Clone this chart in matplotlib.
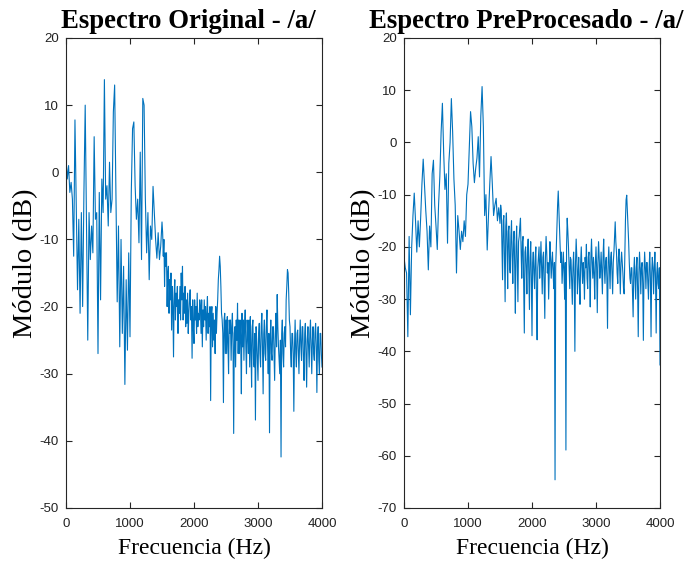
import numpy as np
import matplotlib
matplotlib.use("Agg")
import matplotlib.pyplot as plt

plt.rcParams['axes.unicode_minus'] = False

# frequency grid (Hz): 20 Hz steps up to 1480 Hz, 10 Hz steps above
freq = np.concatenate([np.arange(0, 1500, 20), np.arange(1500, 4001, 10)])

# original spectrum (dB)
orig_db = [
    # 0 - 1480 Hz (20 Hz steps)
    2.0, -1.0, 1.0, -3.0, -1.5, -4.0, -12.5, 7.8, -5.0, -17.5,
    -7.0, -21.0, -6.0, -20.0, -3.0, 10.0, -8.0, -25.0, -6.0, -13.0,
    -8.0, -12.0, 5.3, -7.0, -6.0, -27.0, -3.0, -19.0, -1.0, -6.0,
    13.8, -4.0, -2.0, -8.0, 1.5, -6.0, -4.0, 9.0, 13.0, -3.0,
    -19.3, -8.0, -26.0, -10.0, -24.0, -14.0, -31.6, -16.0, -26.5, -12.0,
    -24.5, -3.0, 6.5, 7.5, -2.0, -7.0, -4.0, -10.5, 3.0, -13.0,
    11.0, 10.0, -4.0, -12.0, -6.0, -16.0, -8.0, -10.0, -2.1, -6.0,
    -10.0, -12.8, -9.0, -13.0, -11.0,
    # 1500 - 4000 Hz (10 Hz steps)
    -7.4, -9.0, -12.5, -10.0, -17.0, -12.0, -14.0, -12.0, -20.0, -15.0,
    -14.0, -21.0, -16.0, -19.0, -15.0, -23.5, -17.0, -20.0, -27.5, -18.0,
    -16.0, -22.0, -18.0, -20.0, -17.0, -24.0, -19.0, -21.0, -17.0, -22.0,
    -15.0, -19.0, -14.0, -22.0, -18.0, -21.0, -17.0, -23.0, -19.0, -22.5,
    -18.0, -24.0, -21.0, -19.0, -17.5, -22.0, -20.0, -27.7, -19.0, -23.0,
    -25.5, -19.0, -22.0, -20.0, -24.0, -18.0, -23.0, -21.0, -22.0, -19.0,
    -20.0, -24.0, -19.0, -26.0, -20.5, -23.0, -19.0, -22.0, -20.0, -25.0,
    -21.0, -18.5, -24.0, -21.0, -23.0, -20.0, -34.0, -21.0, -20.0, -26.0,
    -21.0, -25.0, -22.0, -27.0, -20.0, -24.0, -21.0, -19.0, -16.0, -14.5,
    -12.5, -14.0, -17.0, -21.0, -22.0, -24.0, -34.3, -22.0, -21.0, -27.0,
    -22.0, -27.0, -21.5, -25.0, -30.0, -22.0, -24.0, -22.0, -28.0, -23.0,
    -21.0, -26.0, -38.9, -24.0, -23.0, -29.0, -22.0, -25.0, -19.5, -27.0,
    -22.0, -27.0, -22.0, -25.0, -33.0, -21.0, -26.0, -22.0, -28.0, -23.0,
    -20.5, -26.0, -30.0, -22.0, -24.0, -27.0, -22.0, -29.0, -21.5, -26.0,
    -32.0, -23.0, -22.0, -28.0, -29.0, -24.0, -36.9, -23.0, -25.0, -28.0,
    -31.0, -24.0, -22.5, -27.0, -29.0, -23.0, -21.0, -26.0, -33.0, -24.0,
    -22.0, -27.0, -28.0, -23.0, -20.5, -26.0, -30.0, -24.0, -38.8, -25.0,
    -22.0, -27.0, -28.0, -23.0, -23.0, -27.0, -31.0, -24.0, -21.0, -26.0,
    -18.2, -23.0, -26.0, -28.0, -30.0, -25.0, -42.4, -24.0, -22.0, -27.0,
    -29.0, -24.0, -23.0, -26.0, -19.0, -17.0, -14.5, -15.0, -18.0, -22.0,
    -23.0, -27.0, -29.0, -24.0, -24.0, -27.0, -35.6, -26.0, -22.0, -27.0,
    -29.0, -24.0, -23.5, -27.0, -30.0, -25.0, -22.0, -26.0, -28.0, -23.0,
    -23.0, -28.0, -31.0, -24.0, -22.5, -27.0, -32.0, -25.0, -23.0, -26.0,
    -29.0, -24.0, -22.0, -26.0, -30.0, -25.0, -23.0, -27.0, -28.0, -24.0,
    -22.5, -26.0, -32.8, -25.0, -23.0, -28.0, -30.0, -24.0, -24.0, -27.0,
    -29.0,
]

# preprocessed spectrum (dB)
prep_db = [
    # 0 - 1480 Hz (20 Hz steps)
    -22.0, -24.0, -25.0, -37.2, -18.0, -33.0, -20.0, -14.0, -9.7, -15.0,
    -21.0, -15.0, -20.0, -14.5, -8.0, -3.2, -8.0, -13.0, -17.0, -24.4,
    -16.0, -20.0, -6.0, -3.4, -12.0, -16.0, -20.5, -12.0, -6.5, 2.0,
    7.5, -2.0, -9.0, -6.0, -19.3, -4.0, 0.0, 8.4, 2.0, -7.0,
    -12.0, -25.0, -14.0, -17.0, -20.5, -17.0, -19.0, -15.0, -18.0, -10.0,
    -8.0, -1.0, 5.9, 3.0, -4.0, -7.7, -5.0, -3.0, 1.1, -6.6,
    5.0, 10.7, 3.0, -14.0, -10.0, -20.6, -14.0, -8.0, -2.7, -8.0,
    -14.0, -12.0, -10.7, -15.0, -12.5,
    # 1500 - 4000 Hz (10 Hz steps)
    -15.5, -12.0, -13.0, -20.0, -26.3, -15.0, -14.0, -22.0, -30.5, -16.0,
    -13.5, -20.0, -28.0, -17.0, -16.0, -24.0, -25.0, -18.0, -15.0, -22.0,
    -27.0, -19.0, -17.0, -24.0, -32.7, -20.0, -16.0, -23.0, -30.5, -19.0,
    -18.0, -16.0, -14.5, -21.0, -26.0, -19.0, -18.0, -28.0, -36.5, -21.0,
    -20.0, -24.0, -29.0, -21.0, -18.5, -25.0, -32.0, -22.0, -19.0, -26.0,
    -37.0, -23.0, -21.0, -25.0, -28.0, -22.0, -20.0, -30.0, -37.8, -24.0,
    -22.0, -20.0, -26.0, -23.0, -19.0, -24.0, -29.0, -22.0, -21.0, -27.0,
    -33.7, -22.0, -18.0, -21.0, -25.0, -23.0, -30.0, -24.0, -19.0, -22.0,
    -26.0, -23.0, -21.0, -25.0, -28.0, -23.0, -64.6, -24.0, -20.0, -16.0,
    -12.0, -9.3, -13.0, -17.0, -20.0, -23.0, -21.0, -27.0, -24.0, -21.0,
    -25.0, -30.0, -23.0, -58.9, -20.0, -14.5, -17.0, -20.0, -24.0, -28.0,
    -22.0, -22.5, -27.0, -31.0, -24.0, -21.0, -26.0, -40.0, -23.0, -18.5,
    -22.0, -29.0, -25.0, -22.0, -27.0, -31.0, -23.0, -20.0, -24.0, -27.0,
    -23.0, -25.0, -30.0, -22.0, -24.0, -19.5, -26.0, -28.0, -22.0, -21.0,
    -25.0, -31.5, -22.0, -18.5, -23.0, -26.0, -22.0, -25.0, -30.0, -23.0,
    -20.0, -24.0, -32.6, -23.0, -19.0, -22.0, -26.0, -24.0, -21.0, -25.0,
    -29.0, -22.0, -18.5, -24.0, -27.0, -23.0, -22.0, -26.0, -35.6, -23.0,
    -20.0, -24.0, -28.0, -22.0, -21.0, -25.0, -29.0, -23.0, -21.0, -18.0,
    -15.2, -19.0, -21.0, -25.0, -27.0, -22.0, -20.4, -24.0, -29.0, -23.0,
    -21.0, -23.0, -25.0, -28.0, -29.0, -22.0, -15.0, -11.0, -10.1, -13.0,
    -15.9, -19.0, -23.0, -26.0, -27.0, -24.0, -24.0, -29.0, -33.4, -25.0,
    -22.0, -26.0, -30.0, -24.0, -22.0, -28.0, -37.2, -25.0, -21.0, -24.0,
    -29.0, -24.0, -23.0, -27.0, -37.9, -25.0, -21.0, -24.0, -28.0, -23.0,
    -23.0, -27.0, -30.0, -24.0, -21.0, -26.0, -37.2, -25.0, -22.0, -24.0,
    -29.0, -24.0, -21.0, -26.0, -36.5, -25.0, -23.0, -27.0, -28.0, -24.0,
    -42.6,
]

titles = ["Espectro Original - /a/", "Espectro PreProcesado - /a/"]
ylims = [(-50, 20), (-70, 20)]

axcol = "#262626"
fig = plt.figure(figsize=(6.87, 5.63), dpi=100)
ax1 = fig.add_axes([66/687, 1-508/563, 256/687, 470/563])
ax2 = fig.add_axes([404/687, 1-508/563, 256/687, 470/563])

for ax, y, t, yl in zip([ax1, ax2], [orig_db, prep_db], titles, ylims):
    ax.plot(freq, y, color="#0072BD", lw=0.8)
    ax.set_xlim(0, 4000)
    ax.set_ylim(*yl)
    ax.set_xticks([0, 1000, 2000, 3000, 4000])
    ax.set_yticks(np.arange(yl[0], yl[1] + 1, 10))
    ax.tick_params(direction="in", top=True, right=True, length=4, width=0.8,
                   colors=axcol, labelsize=9.5, labelcolor="#222222")
    ax.tick_params(axis="x", pad=7)
    ax.tick_params(axis="y", pad=5)
    for lab in ax.get_xticklabels() + ax.get_yticklabels():
        lab.set_family("Liberation Sans")
    for s in ax.spines.values():
        s.set_color(axcol)
        s.set_linewidth(0.8)
    ax.set_title(t, family="Liberation Serif", fontweight="bold", fontsize=19.3,
                 pad=7, x=0.476)
    ax.set_xlabel("Frecuencia (Hz)", family="Liberation Serif", fontsize=17, labelpad=6)
    ax.set_ylabel("Módulo (dB)", family="Liberation Serif", fontsize=20.5)
    ax.yaxis.set_label_coords(-0.108, 0.52)

fig.savefig("out.png", dpi=100)
